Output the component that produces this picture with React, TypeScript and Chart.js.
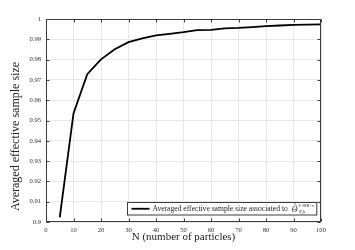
import { useEffect, useRef } from "react";
import { Chart, registerables } from "chart.js";

Chart.register(...registerables);

const particleCounts = [5, 10, 15, 20, 25, 30, 35, 40, 45, 50, 55, 60, 65, 70, 75, 80, 85, 90, 95, 100];
const essValues = [
  0.9023, 0.9535, 0.9728, 0.9801, 0.9851, 0.9886, 0.9905, 0.9919, 0.9927, 0.9935,
  0.9945, 0.9946, 0.9954, 0.9956, 0.996, 0.9965, 0.9968, 0.9971, 0.9972, 0.9974,
];
const xTitle = "N (number of particles)";
const yTitle = "Averaged effective sample size";
const legendText = "Averaged effective sample size associated to";
const legendSymbol = "Θ";
const legendSup = "l−SIR−v";
const legendSub = "N,k";

const SERIF = "'Liberation Serif', 'DejaVu Serif', serif";

const framePlugin = {
  id: "frame",
  afterDatasetsDraw(chart: any) {
    const { ctx, chartArea, scales } = chart;
    const { left, right, top, bottom } = chartArea;
    const x = scales.x;
    const y = scales.y;
    ctx.save();
    ctx.strokeStyle = "#3c3c3c";
    ctx.lineWidth = 1;
    const line = (x1: number, y1: number, x2: number, y2: number) => {
      ctx.beginPath();
      ctx.moveTo(x1, y1);
      ctx.lineTo(x2, y2);
      ctx.stroke();
    };
    const L = Math.round(left) + 0.5;
    const R = Math.round(right) - 0.5;
    const T = Math.round(top) + 0.5;
    const B = Math.round(bottom) - 0.5;
    ctx.strokeRect(L, T, R - L, B - T);
    x.ticks.forEach((t: any) => {
      const px = Math.round(x.getPixelForValue(t.value)) + 0.5;
      line(px, B, px, B - 3);
      line(px, T, px, T + 3);
    });
    y.ticks.forEach((t: any) => {
      const py = Math.round(y.getPixelForValue(t.value)) + 0.5;
      line(L, py, L + 3, py);
      line(R, py, R - 3, py);
    });

    // y axis title (offset below the axis centre, as in the reference)
    ctx.save();
    ctx.translate(16, (top + bottom) / 2 + 16);
    ctx.rotate(-Math.PI / 2);
    ctx.font = `12px ${SERIF}`;
    ctx.fillStyle = "#222";
    ctx.textAlign = "center";
    ctx.textBaseline = "middle";
    ctx.fillText(yTitle, 0, 0);
    ctx.restore();

    // legend
    ctx.font = `7.6px ${SERIF}`;
    const textW = ctx.measureText(legendText).width;
    const symW = 26;
    const sampleW = 18;
    const boxW = 4 + sampleW + 3 + textW + 3 + symW;
    const boxH = 12.5;
    const bx = Math.round(R - 4 - boxW) + 0.5;
    const by = Math.round(B - 7 - boxH) + 0.5;
    ctx.fillStyle = "#ffffff";
    ctx.fillRect(bx, by, boxW, boxH);
    ctx.strokeStyle = "#3c3c3c";
    ctx.lineWidth = 1;
    ctx.strokeRect(bx, by, boxW, boxH);
    const cy = by + boxH / 2;
    ctx.strokeStyle = "#000";
    ctx.lineWidth = 1.8;
    line(bx + 4, cy, bx + 4 + sampleW, cy);
    ctx.fillStyle = "#222";
    ctx.textBaseline = "middle";
    ctx.textAlign = "left";
    const tx = bx + 4 + sampleW + 3;
    ctx.fillText(legendText, tx, cy + 0.5);
    const sx = tx + textW + 4;
    ctx.font = `italic 8px ${SERIF}`;
    ctx.fillText(legendSymbol, sx, cy + 1.5);
    ctx.font = `6px ${SERIF}`;
    ctx.fillText("^", sx + 2, cy - 3.5);
    ctx.font = `4.5px ${SERIF}`;
    ctx.fillText(legendSup, sx + 7, cy - 2.5);
    ctx.font = `italic 4.5px ${SERIF}`;
    ctx.fillText(legendSub, sx + 7, cy + 3);
    ctx.restore();
  },
};

export default function App() {
  const canvasRef = useRef<HTMLCanvasElement | null>(null);

  useEffect(() => {
    const canvas = canvasRef.current;
    if (!canvas) return;
    const chart = new Chart(canvas, {
      type: "line",
      data: {
        datasets: [
          {
            data: particleCounts.map((n, i) => ({ x: n, y: essValues[i] })),
            borderColor: "#000000",
            borderWidth: 1.8,
            pointRadius: 0,
            tension: 0,
            fill: false,
          },
        ],
      },
      options: {
        animation: false,
        responsive: false,
        devicePixelRatio: 1,
        layout: { padding: { left: 0, right: 34, top: 19, bottom: 0 } },
        plugins: { legend: { display: false }, tooltip: { enabled: false } },
        scales: {
          x: {
            type: "linear",
            min: 0,
            max: 100,
            ticks: {
              stepSize: 10,
              color: "#333",
              padding: 4,
              maxRotation: 0,
              font: { family: SERIF, size: 6.6 },
            },
            grid: { color: "#e8e8e8", drawTicks: false },
            border: { display: false },
            title: {
              display: true,
              text: xTitle,
              color: "#222",
              font: { family: SERIF, size: 11 },
              padding: { top: 0, bottom: 6 },
            },
            afterFit: (s: any) => {
              s.height = 28;
            },
          },
          y: {
            type: "linear",
            min: 0.9,
            max: 1,
            ticks: {
              stepSize: 0.01,
              color: "#333",
              padding: 5,
              font: { family: SERIF, size: 6.6 },
              callback: (v: any) => Number(Number(v).toFixed(2)).toString(),
            },
            grid: { color: "#e8e8e8", drawTicks: false },
            border: { display: false },
            afterFit: (s: any) => {
              s.width = 46;
            },
          },
        },
      },
      plugins: [framePlugin],
    });
    return () => chart.destroy();
  }, []);

  return (
    <div style={{ position: "fixed", left: 0, top: 0, width: 355, height: 250, background: "#fff" }}>
      <canvas ref={canvasRef} width={355} height={250} style={{ display: "block" }} />
    </div>
  );
}
